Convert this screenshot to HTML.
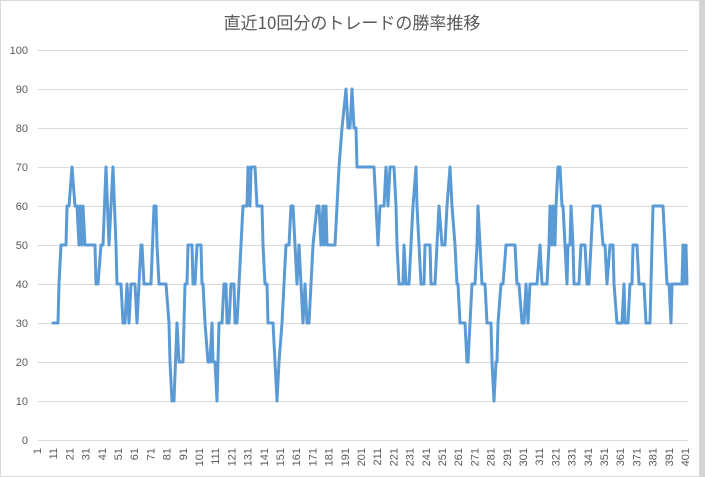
<!DOCTYPE html>
<html><head><meta charset="utf-8"><style>
html,body{margin:0;padding:0;background:#fff}
svg{display:block}
text{font-family:"Liberation Sans","Noto Sans CJK JP",sans-serif;fill:#595959}
</style></head><body>
<svg width="705" height="477" viewBox="0 0 705 477">
<rect x="0.5" y="0.5" width="699" height="476" fill="#fff" stroke="#d9d9d9"/>
<rect x="700" y="0" width="5" height="477" fill="#d4d4d4"/>
<text x="352" y="29" font-size="17" text-anchor="middle" style="font-family:'Noto Sans CJK JP','Liberation Sans',sans-serif">直近10回分のトレードの勝率推移</text>
<g stroke="#d9d9d9" stroke-width="1">
<line x1="38" x2="688" y1="50.5" y2="50.5"/><line x1="38" x2="688" y1="89.5" y2="89.5"/>
<line x1="38" x2="688" y1="128.5" y2="128.5"/><line x1="38" x2="688" y1="167.5" y2="167.5"/>
<line x1="38" x2="688" y1="206.5" y2="206.5"/><line x1="38" x2="688" y1="245.5" y2="245.5"/>
<line x1="38" x2="688" y1="284.5" y2="284.5"/><line x1="38" x2="688" y1="323.5" y2="323.5"/>
<line x1="38" x2="688" y1="362.5" y2="362.5"/><line x1="38" x2="688" y1="401.5" y2="401.5"/>
<line x1="38" x2="688" y1="440.5" y2="440.5"/>
</g>
<g font-size="11" text-anchor="end">
<text x="28" y="54">100</text><text x="28" y="93">90</text><text x="28" y="132">80</text>
<text x="28" y="171">70</text><text x="28" y="210">60</text><text x="28" y="249">50</text>
<text x="28" y="288">40</text><text x="28" y="327">30</text><text x="28" y="366">20</text>
<text x="28" y="405">10</text><text x="28" y="444">0</text>
</g>
<g font-size="11" text-anchor="end">
<text transform="translate(41,448) rotate(-90)">1</text>
<text transform="translate(57.2,448) rotate(-90)">11</text>
<text transform="translate(73.4,448) rotate(-90)">21</text>
<text transform="translate(89.6,448) rotate(-90)">31</text>
<text transform="translate(105.8,448) rotate(-90)">41</text>
<text transform="translate(122,448) rotate(-90)">51</text>
<text transform="translate(138.2,448) rotate(-90)">61</text>
<text transform="translate(154.4,448) rotate(-90)">71</text>
<text transform="translate(170.6,448) rotate(-90)">81</text>
<text transform="translate(186.8,448) rotate(-90)">91</text>
<text transform="translate(203,448) rotate(-90)">101</text>
<text transform="translate(219.2,448) rotate(-90)">111</text>
<text transform="translate(235.4,448) rotate(-90)">121</text>
<text transform="translate(251.6,448) rotate(-90)">131</text>
<text transform="translate(267.8,448) rotate(-90)">141</text>
<text transform="translate(284,448) rotate(-90)">151</text>
<text transform="translate(300.2,448) rotate(-90)">161</text>
<text transform="translate(316.4,448) rotate(-90)">171</text>
<text transform="translate(332.6,448) rotate(-90)">181</text>
<text transform="translate(348.8,448) rotate(-90)">191</text>
<text transform="translate(365,448) rotate(-90)">201</text>
<text transform="translate(381.2,448) rotate(-90)">211</text>
<text transform="translate(397.4,448) rotate(-90)">221</text>
<text transform="translate(413.6,448) rotate(-90)">231</text>
<text transform="translate(429.8,448) rotate(-90)">241</text>
<text transform="translate(446,448) rotate(-90)">251</text>
<text transform="translate(462.2,448) rotate(-90)">261</text>
<text transform="translate(478.4,448) rotate(-90)">271</text>
<text transform="translate(494.6,448) rotate(-90)">281</text>
<text transform="translate(510.8,448) rotate(-90)">291</text>
<text transform="translate(527,448) rotate(-90)">301</text>
<text transform="translate(543.2,448) rotate(-90)">311</text>
<text transform="translate(559.4,448) rotate(-90)">321</text>
<text transform="translate(575.6,448) rotate(-90)">331</text>
<text transform="translate(591.8,448) rotate(-90)">341</text>
<text transform="translate(608,448) rotate(-90)">351</text>
<text transform="translate(624.2,448) rotate(-90)">361</text>
<text transform="translate(640.4,448) rotate(-90)">371</text>
<text transform="translate(656.6,448) rotate(-90)">381</text>
<text transform="translate(672.8,448) rotate(-90)">391</text>
<text transform="translate(689,448) rotate(-90)">401</text>
</g>
<polyline fill="none" stroke="#5b9bd5" stroke-width="3" stroke-linejoin="round" stroke-linecap="round" points="
53,323 58,323 59,284 61,245 66,245 67,206 69,206 72,167 75,206 77,206 79,245 80,206 82,245 83,206 85,245 86,245 95,245 96,284 98,284 101,245 103,245
106,167 109,245 113,167 116,245 117,284 121,284 123,323 125,323 127,284 129,323 131,284 135,284 137,323 139,284 141,245 142,245 144,284 151,284
154,206 156,206 157,245 159,284 166,284 169,323 170,362 172,401 174,401 177,323 179,362 183,362 184,323 185,284 187,284 188,245 192,245 193,284 195,284
197,245 201,245 202,284 203,284 205,323 208,362 210,362 212,323 213,362 215,362 217,401 219,323 222,323 224,284 226,284 227,323 229,323 231,284 234,284
235,323 237,323 239,284 241,245 243,206 247,206 248,167 250,206 251,167 255,167 257,206 262,206 263,245 265,284 267,284 268,323 273,323 275,362 277,401
279,362 282,323 284,284 286,245 289,245 291,206 293,206 295,245 297,284 299,245 301,284 303,323 305,284 307,323 309,323 311,284 313,245 317,206 319,206
321,245 323,206 324,245 326,206 327,245 335,245 337,206 339,167 342,128 346,89 348,128 350,128 352,89 354,128 356,128 357,167 374,167 376,206 378,245
380,206 384,206 386,167 388,206 390,167 394,167 396,206 397,245 399,284 403,284 404,245 406,284 409,284 411,245 413,206 416,167 417,206 419,245 421,284
424,284 425,245 430,245 431,284 435,284 437,245 439,206 442,245 445,245 447,206 450,167 452,206 455,245 457,284 458,284 460,323 465,323 467,362 468,362
470,323 472,284 475,284 477,245 478,206 480,245 482,284 485,284 487,323 491,323 492,362 494,401 496,362 497,362 498,323 501,284 503,284 506,245 515,245
517,284 519,284 522,323 524,323 526,284 528,323 530,284 537,284 540,245 542,284 547,284 549,245 550,206 552,245 553,206 555,245 556,206 558,167 560,167
562,206 563,206 565,245 567,284 568,245 570,245 571,206 573,245 574,284 579,284 581,245 585,245 587,284 589,284 591,245 593,206 600,206 603,245 605,245
607,284 610,245 613,245 614,284 617,323 622,323 624,284 625,323 628,323 630,284 632,284 633,245 637,245 639,284 644,284 646,323 650,323 652,245 653,206
663,206 665,245 667,284 669,284 671,323 672,284 682,284 683,245 684,284 686,245 687,284"/>
</svg>
</body></html>
